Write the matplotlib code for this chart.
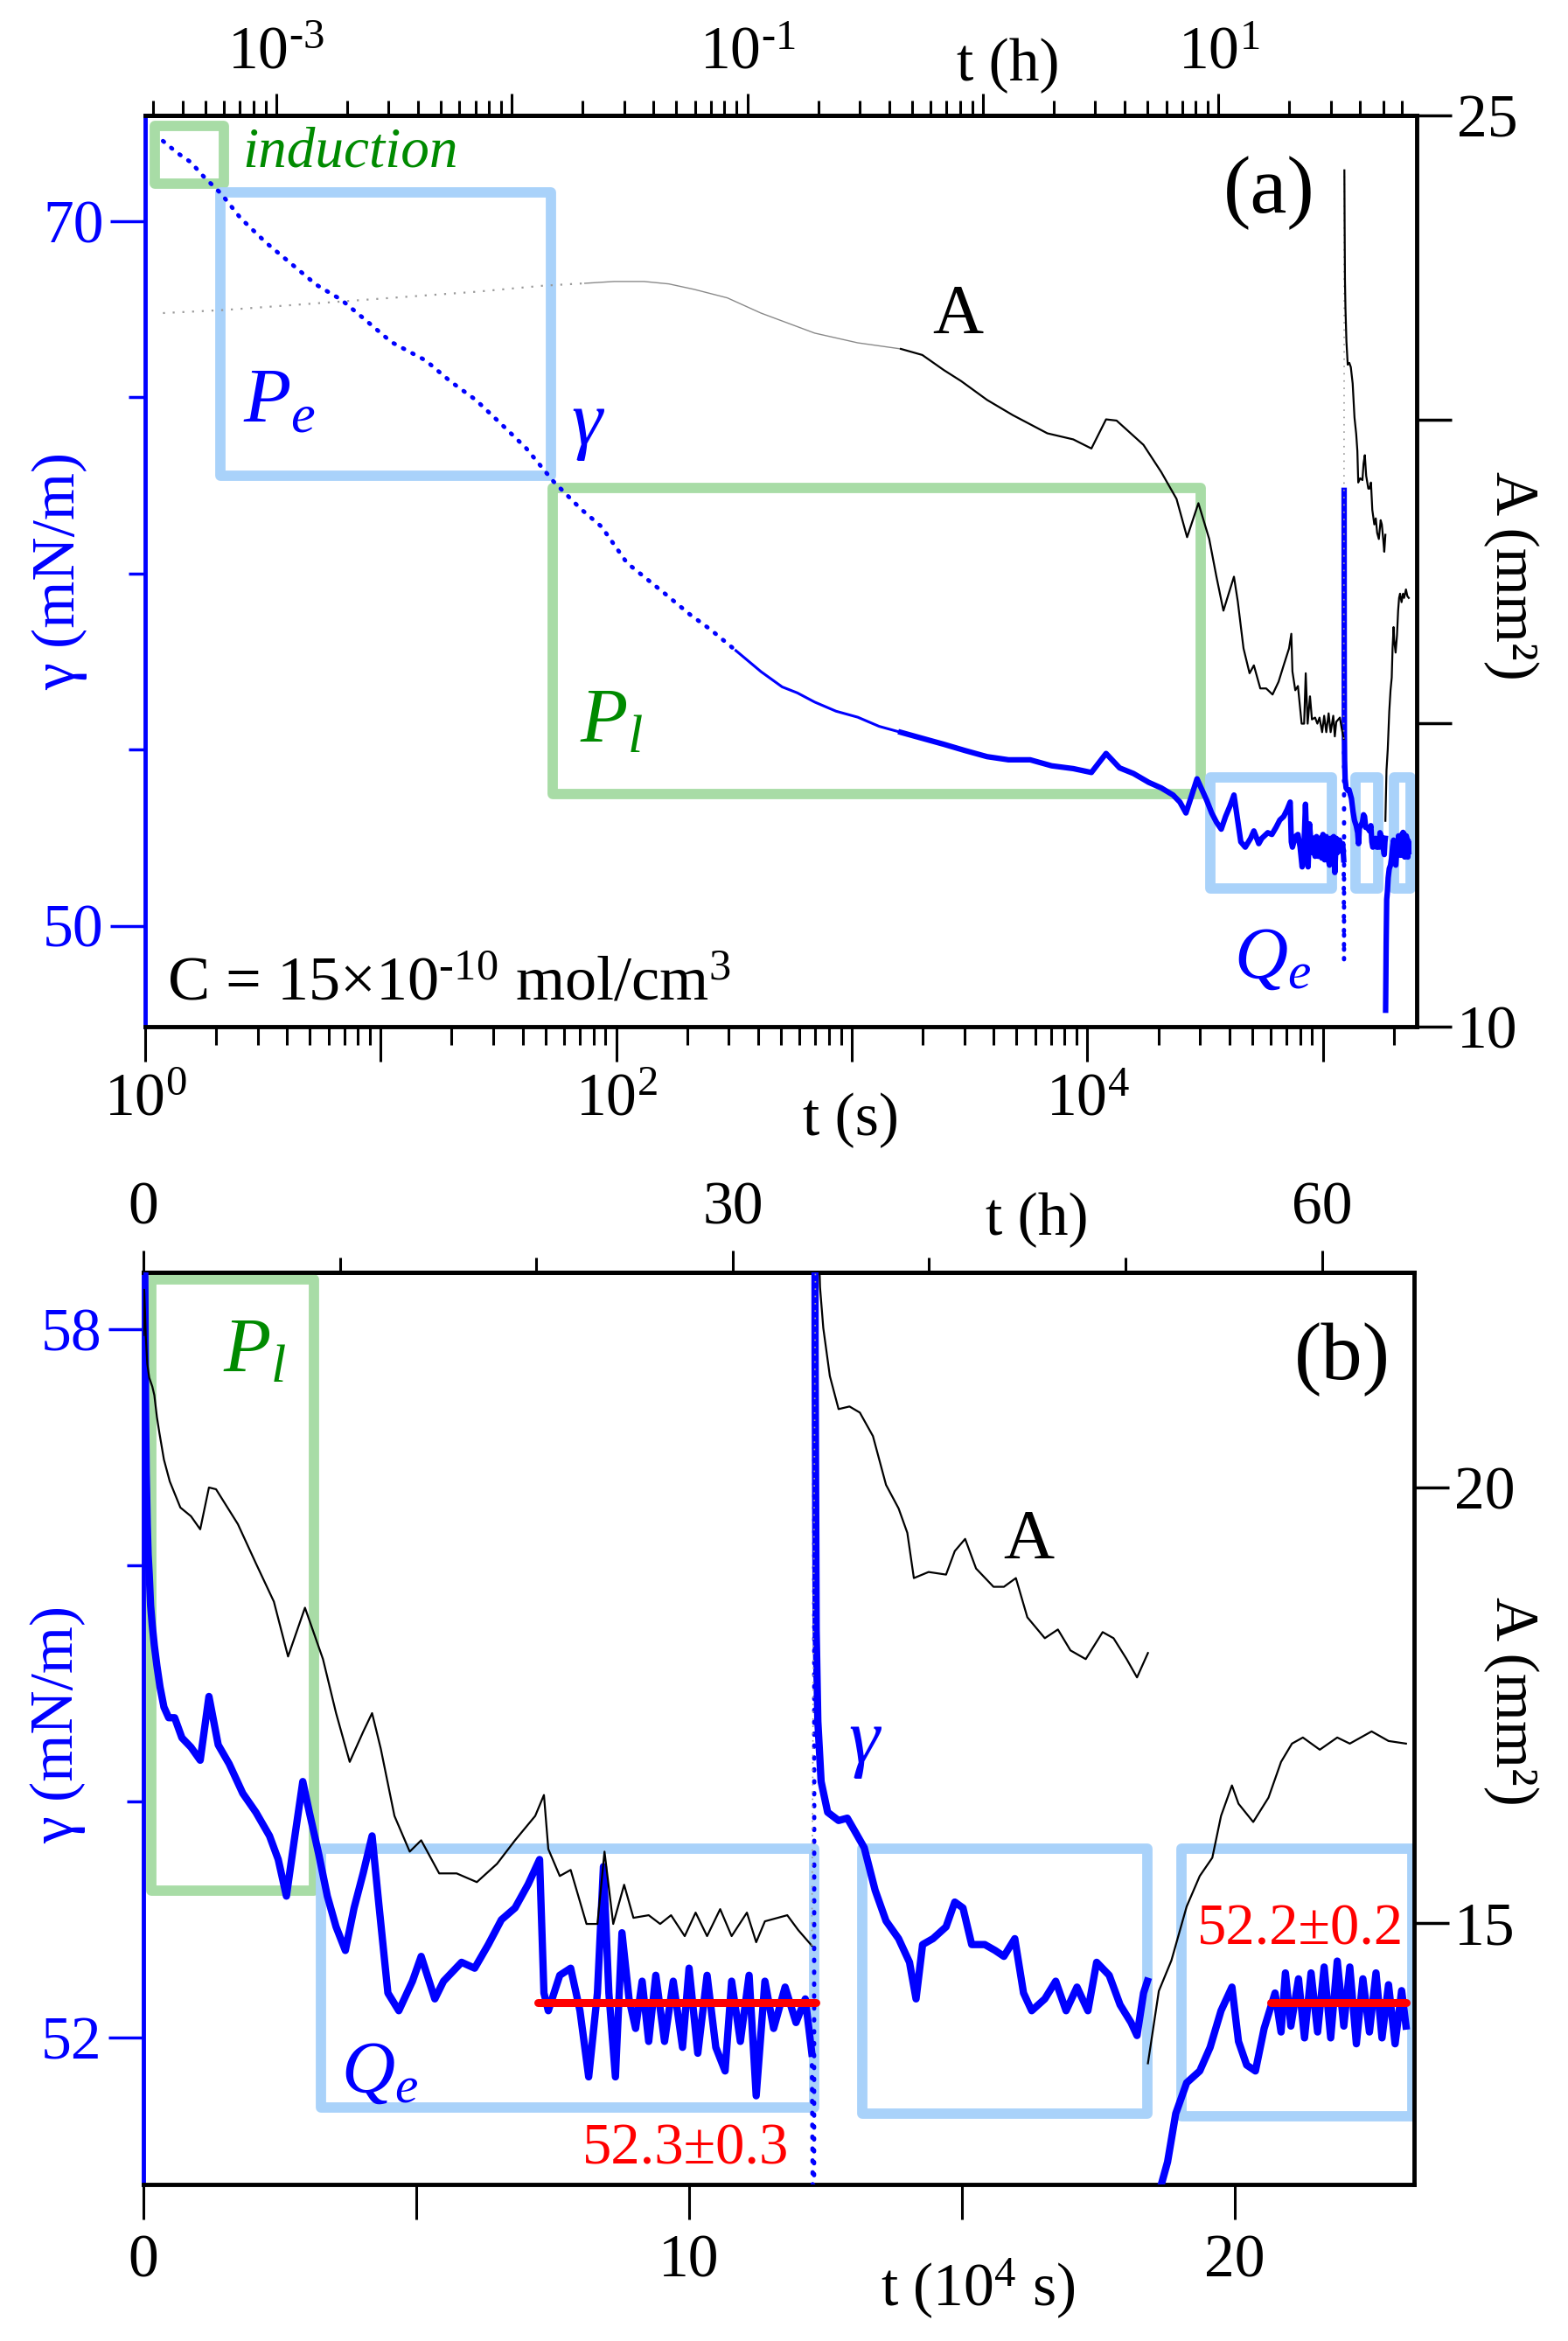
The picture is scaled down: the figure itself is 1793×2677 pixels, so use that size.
import numpy as np
import matplotlib
matplotlib.use('Agg')
from matplotlib import pyplot as plt
from matplotlib.patches import Rectangle
from matplotlib.ticker import FixedLocator, FixedFormatter, LogLocator, NullFormatter

plt.rcParams['font.family'] = ['Liberation Serif', 'DejaVu Serif']
plt.rcParams['mathtext.fontset'] = 'custom'
plt.rcParams['mathtext.rm'] = 'Liberation Serif'
plt.rcParams['mathtext.it'] = 'Liberation Serif:italic'
plt.rcParams['mathtext.default'] = 'regular'

# ---- datos ----
# gamma, primera parte (t en s, leida en el panel logaritmico)
gamma_early_t = [1.19, 1.37, 1.56, 1.76, 2.11, 2.54, 3.25, 4.16, 5.32, 6.81, 8.71, 11.1, 15.5,
                 19.8, 25.3, 32.4, 41.4, 54.0, 70.5, 86.5, 111, 160, 205, 251, 322, 412, 506,
                 587, 695, 857, 1059, 1306, 1614, 1991, 2460, 3034, 3750, 4624, 5715, 7047, 8710]
gamma_early = [72.28, 71.94, 71.68, 71.29, 70.77, 70.09, 69.40, 68.80, 68.20, 67.77, 67.17, 66.57,
               66.05, 65.45, 64.93, 64.25, 63.56, 62.62, 61.84, 61.33, 60.30, 59.44, 58.84, 58.41,
               57.81, 57.21, 56.78, 56.61, 56.35, 56.09, 55.92, 55.66, 55.49, 55.32, 55.15, 54.97,
               54.80, 54.71, 54.71, 54.54, 54.46]
# gamma, resto del primer tramo (t en 1e4 s)
gamma1_t = [1.04, 1.20, 1.37, 1.57, 1.82, 2.06, 2.31, 2.47, 2.62, 2.76, 2.92, 3.04, 3.21, 3.37,
            3.53, 3.70, 3.86, 4.03, 4.19, 4.31, 4.48, 4.68, 4.93, 5.09, 5.34, 5.50, 5.83, 6.07,
            6.32, 6.56, 6.81, 7.05, 7.26, 7.34, 7.42, 7.63, 7.83, 8.00, 8.16, 8.32, 8.43, 8.53,
            8.65, 8.77, 8.90, 9.02, 9.14, 9.26, 9.39, 9.55, 9.71, 9.88, 10.00, 10.16, 10.33,
            10.49, 10.66, 10.78, 10.94, 11.10, 11.23, 11.39, 11.55, 11.76, 11.96, 12.13, 12.25]
gamma1 = [54.35, 54.89, 54.48, 54.32, 54.07, 53.91, 53.71, 53.51, 53.20, 53.66, 54.17, 53.91,
          53.56, 53.20, 52.94, 52.74, 53.10, 53.40, 53.71, 53.15, 52.38, 52.23, 52.48, 52.69,
          52.33, 52.48, 52.64, 52.59, 52.79, 53.00, 53.10, 53.30, 53.51, 52.38, 52.23, 52.53,
          52.59, 52.23, 51.67, 52.38, 53.45, 52.38, 51.67, 52.89, 52.33, 52.08, 52.48, 51.97,
          52.53, 51.97, 52.48, 51.92, 52.59, 51.87, 52.53, 51.92, 51.72, 52.48, 51.97, 52.53,
          51.51, 52.48, 52.08, 52.43, 52.13, 52.33, 51.87]
gamma_dip1_t, gamma_dip1 = 12.29, 49.0
gamma2_t = [12.30, 12.31, 12.33, 12.36, 12.42, 12.54, 12.74, 12.90, 13.05, 13.21, 13.41, 13.61,
            13.84, 14.04, 14.16, 14.28, 14.47, 14.71, 14.87, 15.02, 15.18, 15.42, 15.61, 15.77,
            15.97, 16.13, 16.28, 16.52, 16.72, 16.91, 17.11, 17.31, 17.47, 17.70, 17.90, 18.10,
            18.21, 18.33, 18.40]
gamma2 = [62.36, 57.80, 55.45, 54.68, 54.17, 53.91, 53.84, 53.86, 53.74, 53.61, 53.25, 52.99,
          52.84, 52.64, 52.33, 52.79, 52.84, 52.94, 53.15, 53.10, 52.79, 52.79, 52.74, 52.69,
          52.84, 52.38, 52.23, 52.33, 52.48, 52.23, 52.43, 52.23, 52.64, 52.53, 52.28, 52.13,
          52.02, 52.38, 52.48]
gamma3_t = [18.45, 18.55, 18.65, 18.77, 18.92, 19.12, 19.36, 19.55, 19.75, 19.95, 20.07, 20.22,
            20.38, 20.54, 20.74, 20.85, 20.93, 21.03, 21.17, 21.28, 21.40, 21.52, 21.64, 21.76,
            21.88, 22.00, 22.11, 22.23, 22.35, 22.47, 22.59, 22.70, 22.82, 22.94, 23.06, 23.14]
gamma3 = [47.60, 49.50, 50.75, 50.95, 51.36, 51.62, 51.72, 51.92, 52.23, 52.43, 51.97, 51.77,
          51.72, 52.08, 52.38, 52.05, 52.55, 52.10, 52.50, 52.00, 52.55, 52.05, 52.60, 52.00,
          52.65, 52.10, 52.60, 51.95, 52.50, 52.05, 52.55, 52.00, 52.45, 51.95, 52.40, 52.10]

# area A (mm2)
area_early_t = [1.19, 2.16, 4.9, 11.1, 25.3, 48.8, 73.5, 98, 131, 167, 214, 296, 411, 695, 1059,
                1614, 1991, 2460, 2911, 3750, 4819, 6761, 8710]
area_early = [21.75, 21.80, 21.90, 22.00, 22.10, 22.20, 22.24, 22.27, 22.27, 22.23, 22.14, 22.00,
              21.75, 21.42, 21.26, 21.16, 21.06, 20.81, 20.63, 20.32, 20.07, 19.77, 19.67]
area1_t = [1.04, 1.20, 1.33, 1.73, 2.06, 2.39, 2.65, 2.96, 3.29, 3.53, 3.78, 4.03, 4.19, 4.35,
           4.60, 4.88, 5.09, 5.42, 5.74, 6.11, 6.48, 6.81, 7.18, 7.34, 7.42, 7.63, 7.83, 8.12,
           8.32, 8.45, 8.61, 8.81, 8.98, 9.26, 9.47, 9.67, 9.92, 10.12, 10.33, 10.57, 10.78,
           11.06, 11.23, 11.39, 11.80, 12.00, 12.25]
area1 = [19.52, 20.00, 19.98, 19.58, 19.13, 18.69, 18.06, 18.62, 18.03, 17.41, 16.85, 17.20,
         17.41, 17.00, 16.23, 15.82, 15.95, 15.57, 15.57, 15.47, 15.68, 15.95, 16.23, 16.47,
         15.85, 15.54, 15.61, 14.99, 14.99, 15.82, 14.99, 15.44, 15.06, 15.09, 14.99, 15.09,
         14.85, 15.12, 14.85, 15.16, 14.85, 15.12, 14.78, 15.02, 15.09, 14.92, 14.74]
area2_t = [12.33, 12.36, 12.40, 12.46, 12.58, 12.74, 12.94, 13.13, 13.37, 13.61, 13.84, 14.00,
           14.12, 14.39, 14.71, 14.87, 15.06, 15.26, 15.58, 15.77, 15.99, 16.20, 16.52, 16.76,
           16.99, 17.27, 17.58, 17.78, 18.02, 18.21, 18.41]
area2 = [24.10, 23.20, 22.30, 21.83, 21.28, 20.90, 20.93, 20.86, 20.59, 20.03, 19.76, 19.48,
         18.96, 19.03, 19.00, 19.27, 19.41, 19.07, 18.86, 18.86, 18.96, 18.51, 18.27, 18.37,
         18.13, 18.03, 18.34, 18.27, 18.03, 17.82, 18.10]
area3_t = [18.41, 18.61, 18.84, 19.12, 19.36, 19.59, 19.75, 19.95, 20.07, 20.34, 20.62, 20.85,
           21.05, 21.25, 21.56, 21.88, 22.11, 22.51, 22.82, 23.14]
area3 = [13.39, 14.22, 14.57, 15.19, 15.54, 15.75, 16.23, 16.58, 16.37, 16.16, 16.44, 16.85,
         17.06, 17.13, 16.99, 17.13, 17.06, 17.20, 17.09, 17.06]

# valores medios (t inicio, t fin en 1e4 s, gamma)
mean_lines = [(7.22, 12.33, 52.3), (20.66, 23.14, 52.3)]
mean_labels = ['52.3±0.3', '52.2±0.2']

# recuadros de regimen (t0, t1, gamma0, gamma1, tipo)
boxes_a = [(1.10, 2.16, 71.08, 72.70, 'g'), (2.09, 52.7, 62.78, 70.82, 'b'),
           (53.7, 3.03e4, 53.73, 62.44, 'g'), (3.32e4, 1.09e5, 51.05, 54.20, 'b'),
           (1.37e5, 1.72e5, 51.05, 54.20, 'b'), (2.00e5, 2.35e5, 51.05, 54.20, 'b')]
boxes_b = [(0.15, 3.12, 53.25, 58.42, 'g'), (3.25, 12.29, 51.41, 53.60, 'b'),
           (13.17, 18.40, 51.36, 53.60, 'b'), (19.02, 23.25, 51.34, 53.60, 'b')]

BLUE = '#0000ff'
GREEN_TXT = '#008a00'
BOX_COL = {'g': '#a8dca6', 'b': '#a9d2fa'}
FS = 50

t_g1 = np.concatenate([gamma_early_t, np.array(gamma1_t) * 1e4])
g1 = np.array(gamma_early + gamma1)
t_g2, g2 = np.array(gamma2_t) * 1e4, np.array(gamma2)
t_g3, g3 = np.array(gamma3_t) * 1e4, np.array(gamma3)
t_a1 = np.concatenate([area_early_t, np.array(area1_t) * 1e4])
a1 = np.array(area_early + area1)
t_a2, a2 = np.array(area2_t) * 1e4, np.array(area2)
t_a3, a3 = np.array(area3_t) * 1e4, np.array(area3)

fig = plt.figure(figsize=(17.93, 26.77), dpi=100)


def estilo(ax, ax2):
    ax.spines['right'].set_visible(False)
    ax.spines['left'].set_color(BLUE)
    for s in ['left', 'top', 'bottom']:
        ax.spines[s].set_linewidth(3.5)
    for s in ['left', 'top', 'bottom']:
        ax2.spines[s].set_visible(False)
    ax2.spines['right'].set_linewidth(3.5)
    ax.tick_params(axis='y', which='major', direction='out', length=29, width=2.5,
                   color=BLUE, labelcolor=BLUE, labelsize=FS, pad=5)
    ax.tick_params(axis='y', which='minor', direction='out', length=14, width=2.5, color=BLUE)
    ax2.tick_params(axis='y', which='major', direction='out', length=29, width=2.5,
                    labelsize=FS, pad=4)


def recuadros(ax, boxes, xs=1.0):
    for t0, t1, y0, y1, k in boxes:
        ax.add_patch(Rectangle((t0 * xs, y0), (t1 - t0) * xs, y1 - y0, fill=False,
                               lw=8.5, ec=BOX_COL[k], joinstyle='round', zorder=1))


# ================= panel (a) =================
ax = fig.add_axes([0.0926, 0.5614, 0.8109, 0.3892])
ax.set_xscale('log')
ax.set_xlim(1, 2.5e5)
ax.set_ylim(47.13, 73.0)
ax2 = ax.twinx()
ax2.set_ylim(10, 25)
estilo(ax, ax2)

recuadros(ax, boxes_a)

i1 = np.searchsorted(t_g1, 300)
i2 = np.searchsorted(t_g1, 1500)
ax.plot(t_g1[:i1 + 1], g1[:i1 + 1], ls=(0, (0.3, 2.2)), lw=3.5, color=BLUE,
        dash_capstyle='round', zorder=3)
ax.plot(t_g1[i1:i2 + 1], g1[i1:i2 + 1], lw=2.2, color=BLUE, zorder=3)
ax.plot(t_g1[i2:], g1[i2:], lw=4.5, color=BLUE, zorder=3)
ax.plot([t_g1[-1], gamma_dip1_t * 1e4, t_g2[0]], [g1[-1], gamma_dip1, g2[0]],
        ls=(0, (0.3, 3)), lw=3.5, color=BLUE, dash_capstyle='round', zorder=3)
ax.plot(t_g2, g2, lw=4.5, color=BLUE, zorder=3)
ax.plot(t_g3, g3, lw=4.5, color=BLUE, zorder=3)

j1 = np.searchsorted(t_a1, 60)
j2 = np.searchsorted(t_a1, 1500)
ax2.plot(t_a1[:j1 + 1], a1[:j1 + 1], ls=(0, (1, 4)), lw=1.6, color='#9a9a9a')
ax2.plot(t_a1[j1:j2 + 1], a1[j1:j2 + 1], lw=1.0, color='#8a8a8a')
ax2.plot(t_a1[j2:], a1[j2:], lw=1.6, color='black')
ax2.plot([t_a1[-1], t_a2[0]], [a1[-1], a2[0]], ls=(0, (1, 4)), lw=1.2, color='#9a9a9a')
ax2.plot(t_a2, a2, lw=1.6, color='black')
ax2.plot(t_a3, a3, lw=1.6, color='black')

# ticks panel (a)
ax.xaxis.set_major_locator(FixedLocator([1, 10, 1e2, 1e3, 1e4, 1e5]))
ax.xaxis.set_major_formatter(FixedFormatter(['$10^{0}$', '', '$10^{2}$', '', '$10^{4}$', '']))
ax.xaxis.set_minor_locator(LogLocator(base=10, subs=np.arange(2, 10)))
ax.xaxis.set_minor_formatter(NullFormatter())
ax.tick_params(axis='x', which='major', direction='out', length=29, width=2.2,
               labelsize=FS, pad=9)
ax.tick_params(axis='x', which='minor', direction='out', length=15, width=2.2)
ax.yaxis.set_major_locator(FixedLocator([50, 70]))
ax.yaxis.set_minor_locator(FixedLocator([55, 60, 65]))
ax2.yaxis.set_major_locator(FixedLocator([10, 15, 20, 25]))
ax2.yaxis.set_major_formatter(FixedFormatter(['10', '', '', '25']))

sec = ax.secondary_xaxis('top', functions=(lambda t: t / 3600.0, lambda h: h * 3600.0))
sec.xaxis.set_major_locator(FixedLocator([1e-3, 1e-2, 1e-1, 1, 10]))
sec.xaxis.set_major_formatter(FixedFormatter([r'$10^{\text{-}3}$', '', r'$10^{\text{-}1}$',
                                              '', '$10^{1}$']))
sec.xaxis.set_minor_locator(LogLocator(base=10, subs=np.arange(2, 10)))
sec.xaxis.set_minor_formatter(NullFormatter())
sec.spines['top'].set_linewidth(3.5)
sec.tick_params(axis='x', which='major', direction='out', length=18, width=2.2,
                labelsize=FS, pad=10)
sec.tick_params(axis='x', which='minor', direction='out', length=12, width=2.2)

ax.text(4620, 1.0384, 't (h)', transform=ax.get_xaxis_transform(), ha='center',
        va='baseline', fontsize=FS)
ax.text(990, -0.119, 't (s)', transform=ax.get_xaxis_transform(), ha='center',
        va='baseline', fontsize=FS)
ax.text(-0.067, 0.5, 'γ (mN/m)', transform=ax.transAxes, rotation=90, ha='center',
        va='center', fontsize=FS, color=BLUE)
ax.text(1.074, 0.495, 'A (mm²)', transform=ax.transAxes, rotation=-90, ha='center',
        va='center', fontsize=FS)

ax.text(2.6, 71.55, 'induction', color=GREEN_TXT, style='italic', fontsize=47,
        ha='left', va='baseline')
ax.text(2.6, 64.3, r'$\mathit{P}_{\mathit{e}}$', color=BLUE, fontsize=64,
        ha='left', va='baseline')
ax.text(75, 64.2, 'γ', color=BLUE, style='italic', fontsize=64, ha='center', va='center')
ax.text(70, 55.2, r'$\mathit{P}_{\mathit{l}}$', color=GREEN_TXT, fontsize=64,
        ha='left', va='baseline')
ax.text(1.24, 47.9, r'C = 15×10$^{\text{-}10}$ mol/cm$^{3}$', fontsize=52,
        ha='left', va='baseline')
ax2.text(2810, 21.7, 'A', fontsize=58, ha='center', va='center')
ax.text(5.9e4, 70.8, '(a)', fontsize=68, ha='center', va='center')
ax.text(4.2e4, 48.5, r'$\mathit{Q}_{\mathit{e}}$', color=BLUE, fontsize=61,
        ha='left', va='baseline')

# ================= panel (b) =================
bx = fig.add_axes([0.0915, 0.0669, 0.8104, 0.3896])
bx.set_xlim(0, 23.29)
bx.set_ylim(50.76, 58.48)
bx2 = bx.twinx()
bx2.set_ylim(12.0, 22.47)
estilo(bx, bx2)

recuadros(bx, boxes_b)

bx.plot(t_g1 / 1e4, g1, lw=6, color=BLUE, zorder=3)
bx.plot([t_g1[-1] / 1e4, gamma_dip1_t, t_g2[0] / 1e4], [g1[-1], gamma_dip1, g2[0]],
        ls=(0, (0.3, 2.5)), lw=3.5, color=BLUE, dash_capstyle='round', zorder=3)
bx.plot(t_g2 / 1e4, g2, lw=6, color=BLUE, zorder=3)
bx.plot(t_g3 / 1e4, g3, lw=6, color=BLUE, zorder=3)
for (m0, m1, mv) in mean_lines:
    bx.plot([m0, m1], [mv, mv], color='#ff0000', lw=6.5, solid_capstyle='round', zorder=5)

bx2.plot(t_a1 / 1e4, a1, lw=1.6, color='black')
bx2.plot([t_a1[-1] / 1e4, t_a2[0] / 1e4], [a1[-1], a2[0]], ls=(0, (1, 4)), lw=1.2,
         color='#9a9a9a')
bx2.plot(t_a2 / 1e4, a2, lw=1.6, color='black')
bx2.plot(t_a3 / 1e4, a3, lw=1.6, color='black')

bx.xaxis.set_major_locator(FixedLocator([0, 5, 10, 15, 20]))
bx.xaxis.set_major_formatter(FixedFormatter(['0', '', '10', '', '20']))
bx.tick_params(axis='x', which='major', direction='out', length=29, width=2.2,
               labelsize=FS, pad=12)
bx.yaxis.set_major_locator(FixedLocator([52, 58]))
bx.yaxis.set_minor_locator(FixedLocator([54, 56]))
bx2.yaxis.set_major_locator(FixedLocator([15, 20]))

secb = bx.secondary_xaxis('top', functions=(lambda x: x * 1e4 / 3600.0,
                                             lambda h: h * 3600.0 / 1e4))
secb.xaxis.set_major_locator(FixedLocator([0, 30, 60]))
secb.xaxis.set_minor_locator(FixedLocator([10, 20, 40, 50]))
secb.spines['top'].set_linewidth(3.5)
secb.tick_params(axis='x', which='major', direction='out', length=18, width=2.2,
                 labelsize=FS, pad=11)
secb.tick_params(axis='x', which='minor', direction='out', length=12, width=2.2)

bx.text(16.37, 1.041, 't (h)', transform=bx.get_xaxis_transform(), ha='center',
        va='baseline', fontsize=FS)
bx.text(15.3, -0.133, 't (10$^{4}$ s)', transform=bx.get_xaxis_transform(), ha='center',
        va='baseline', fontsize=FS)
bx.text(-0.067, 0.504, 'γ (mN/m)', transform=bx.transAxes, rotation=90, ha='center',
        va='center', fontsize=FS, color=BLUE)
bx.text(1.076, 0.53, 'A (mm²)', transform=bx.transAxes, rotation=-90, ha='center',
        va='center', fontsize=FS)

bx.text(1.45, 57.64, r'$\mathit{P}_{\mathit{l}}$', color=GREEN_TXT, fontsize=64,
        ha='left', va='baseline')
bx.text(3.62, 51.54, r'$\mathit{Q}_{\mathit{e}}$', color=BLUE, fontsize=61,
        ha='left', va='baseline')
bx.text(11.84, 50.93, mean_labels[0], color='#ff0000', fontsize=48, ha='right', va='baseline')
bx.text(23.10, 52.79, mean_labels[1], color='#ff0000', fontsize=48, ha='right', va='baseline')
bx2.text(16.22, 19.38, 'A', fontsize=58, ha='center', va='center')
bx.text(13.2, 54.49, 'γ', color=BLUE, style='italic', fontsize=64, ha='center', va='center')
bx.text(21.97, 57.74, '(b)', fontsize=68, ha='center', va='center')

fig.savefig('out.png', dpi=100)
